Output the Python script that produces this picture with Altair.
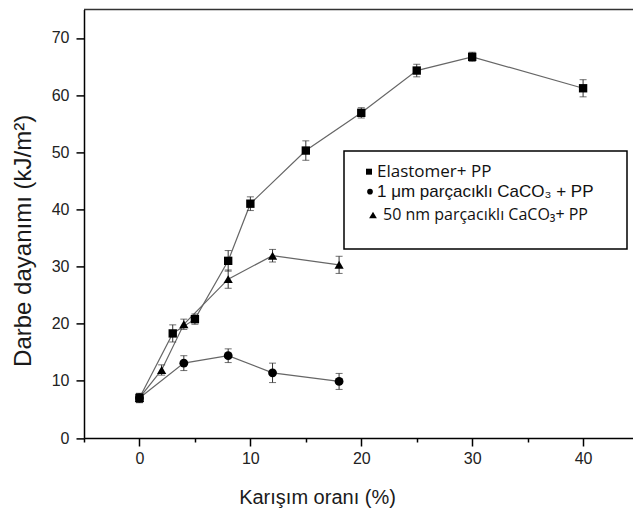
import altair as alt
import pandas as pd

# Impact strength (kJ/m^2) against blend ratio (%) for three PP composites
series_names = ["Elastomer+ PP", "1 μm parçacıklı CaCO₃  + PP", "50 nm parçacıklı CaCO₃+ PP"]
series_shapes = ["square", "circle", "triangle-up"]
series_sizes = [70, 85, 95]

elast_x = [0, 3, 5, 8, 10, 15, 20, 25, 30, 40]
elast_y = [7.0, 18.3, 20.8, 31.0, 41.0, 50.3, 56.9, 64.3, 66.7, 61.2]
elast_err = [0.8, 1.5, 0.9, 1.8, 1.2, 1.7, 0.9, 1.1, 0.8, 1.5]

micro_x = [0, 4, 8, 12, 18]
micro_y = [7.0, 13.1, 14.4, 11.4, 9.9]
micro_err = [0.8, 1.3, 1.2, 1.7, 1.4]

nano_x = [0, 2, 4, 8, 12, 18]
nano_y = [7.0, 11.9, 19.9, 27.8, 31.9, 30.3]
nano_err = [0.8, 0.9, 0.9, 1.6, 1.1, 1.5]

x_ticks = [-5, 0, 5, 10, 15, 20, 25, 30, 35, 40]
y_ticks = [0, 5, 10, 15, 20, 25, 30, 35, 40, 45, 50, 55, 60, 65, 70, 75]

rows = []
for name, xs, ys, es in [
    (series_names[0], elast_x, elast_y, elast_err),
    (series_names[1], micro_x, micro_y, micro_err),
    (series_names[2], nano_x, nano_y, nano_err),
]:
    for i, (xv, yv, ev) in enumerate(zip(xs, ys, es)):
        rows.append({"series": name, "order": i, "x": xv, "y": yv,
                     "lo": yv - ev, "hi": yv + ev})
df = pd.DataFrame(rows)

W, H = 549, 428.6
FONT = "Liberation Sans"

x_scale = alt.Scale(domain=[-5, 44.5], nice=False, zero=False)
y_scale = alt.Scale(domain=[0, 75], nice=False)

x_axis = alt.Axis(
    values=x_ticks,
    title="Karışım oranı (%)",
    labelExpr="datum.value % 10 === 0 ? datum.label : ''",
    tickSize=alt.ExprRef(expr="datum.value % 10 === 0 ? 8 : 4"),
    grid=False, labelPadding=4,
    titleX=233, titleY=59, titleBaseline="middle", titleAnchor="middle",
    titleFontSize=20,
)
y_axis = alt.Axis(
    values=y_ticks,
    title="Darbe dayanımı  (kJ/m²)",
    labelExpr="datum.value % 10 === 0 && datum.value < 75 ? datum.label : ''",
    tickSize=alt.ExprRef(expr="datum.value % 10 === 0 ? 8 : 4"),
    grid=False, labelPadding=7,
    titleX=-61, titleY=231, titleBaseline="middle", titleAngle=-90,
    titleFontSize=24,
)

base = alt.Chart(df)

shape_scale = alt.Scale(domain=series_names, range=series_shapes)
size_scale = alt.Scale(domain=series_names, range=series_sizes)

lines = base.mark_line(color="#666666", strokeWidth=1.2).encode(
    x=alt.X("x:Q", scale=x_scale, axis=x_axis),
    y=alt.Y("y:Q", scale=y_scale, axis=y_axis),
    detail="series:N",
    order="order:Q",
)

bars = base.mark_rule(color="#333333", strokeWidth=1).encode(
    x="x:Q", y="lo:Q", y2="hi:Q"
)
caps_hi = base.mark_tick(color="#333333", thickness=1, size=7, orient="horizontal").encode(
    x="x:Q", y="hi:Q"
)
caps_lo = base.mark_tick(color="#333333", thickness=1, size=7, orient="horizontal").encode(
    x="x:Q", y="lo:Q"
)

points = base.mark_point(filled=True, color="black", opacity=1).encode(
    x="x:Q",
    y="y:Q",
    shape=alt.Shape("series:N", scale=shape_scale, legend=None),
    size=alt.Size("series:N", scale=size_scale, legend=None),
)

one = alt.Data(values=[{}])

top_border = alt.Chart(one).mark_rule(color="#333333", strokeWidth=1.5).encode(
    x=alt.value(0), x2=alt.value(W), y=alt.value(0)
)

# Legend box with its three entries
legend_box = alt.Chart(one).mark_rect(fill="white", stroke="black", strokeWidth=1.5).encode(
    x=alt.value(260), x2=alt.value(543), y=alt.value(141.6), y2=alt.value(239.6)
)
legend_layers = [legend_box]
row_y = [162.3, 182.3, 205.6]
sym_x = [285, 286, 289]
text_x = [293, 293, 299]
row_fonts = ["Open Sans", FONT, "Open Sans"]
row_sizes = [17, 17, 16]
sym_sizes = [36, 32, 60]
for name, shp, ry, sx, tx, fnt, fs, ss in zip(series_names, series_shapes, row_y, sym_x,
                                             text_x, row_fonts, row_sizes, sym_sizes):
    legend_layers.append(
        alt.Chart(one).mark_point(filled=True, color="black", opacity=1, shape=shp, size=ss).encode(
            x=alt.value(sx), y=alt.value(ry)
        )
    )
    legend_layers.append(
        alt.Chart(one).mark_text(align="left", baseline="middle", font=fnt, fontSize=fs,
                                 color="#111111", text=name).encode(
            x=alt.value(tx), y=alt.value(ry)
        )
    )

chart = alt.layer(
    lines, bars, caps_hi, caps_lo, points, top_border, *legend_layers
).properties(
    width=W, height=H,
    autosize=alt.AutoSizeParams(type="none"),
    padding={"left": 84, "top": 9.4, "right": 0, "bottom": 77},
).configure_view(
    stroke=None
).configure_axis(
    domainColor="black", domainWidth=1.5,
    tickColor="black", tickWidth=1.5,
    labelColor="#222222", labelFont=FONT, labelFontSize=16,
    titleColor="#1a1a1a", titleFont=FONT, titleFontWeight="normal",
)

chart.save("out.html", embed_options={"renderer": "svg", "actions": False})
